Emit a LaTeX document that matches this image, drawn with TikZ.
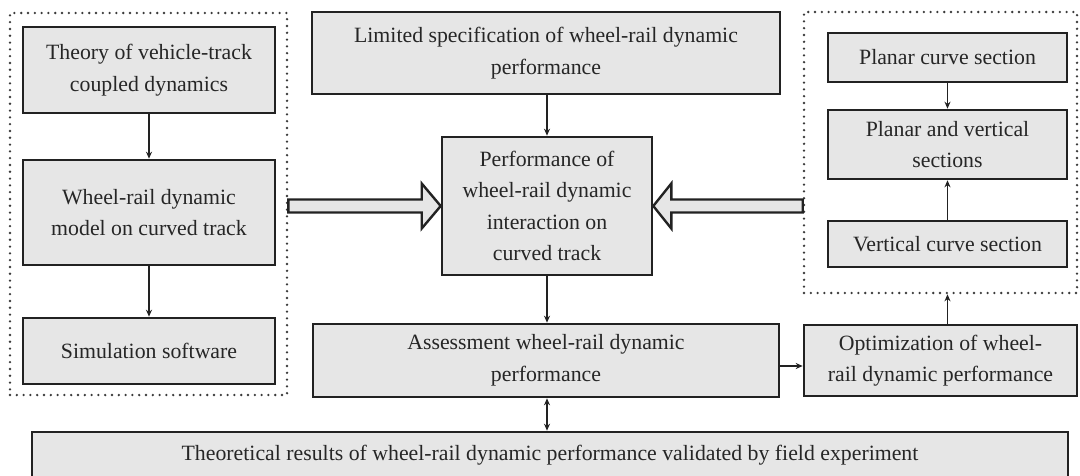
\documentclass[tikz,border=0pt]{standalone}
\usepackage{fontspec}
\setmainfont{Liberation Serif}
\usetikzlibrary{arrows.meta,calc}
\definecolor{boxfill}{HTML}{E6E6E6}
\definecolor{edge}{HTML}{222222}
\definecolor{txt}{HTML}{262626}
\definecolor{dotc}{HTML}{3A3A3A}
\tikzset{
  box/.style={draw=edge, fill=boxfill, line width=2.6pt, align=center, text=txt,
    font=\fontsize{21.8pt}{31.5pt}\selectfont, inner sep=0pt},
  group/.style={draw=dotc, line width=2.6pt, line cap=round, dash pattern=on 0pt off 6.8pt, inner sep=0pt},
  arr/.style={draw=edge, line width=1.8pt, -{Stealth[length=7pt,width=6pt]}},
  biarr/.style={draw=edge, line width=1.8pt, {Stealth[length=7pt,width=6pt]}-{Stealth[length=7pt,width=6pt]}},
  hollow/.style={draw=edge, fill=boxfill, line width=2.4pt, line join=miter}
}
\begin{document}
\begin{tikzpicture}[x=1pt,y=-1pt]
\useasboundingbox[fill=white] (0,0) rectangle (1080,476);
% groups
\node[group, minimum width=277pt, minimum height=382pt] (leftgroup) at (148.5,204) {};
\node[group, minimum width=273pt, minimum height=281pt] (rightgroup) at (940.5,152.5) {};
% left column
\node[box, minimum width=252pt, minimum height=86pt] (theory) at (149,70) {Theory of vehicle-track\\coupled dynamics};
\node[box, minimum width=252pt, minimum height=105pt] (model) at (149,212.5) {Wheel-rail dynamic\\model on curved track};
\node[box, minimum width=252pt, minimum height=66pt] (sim) at (149,351) {Simulation software};
% centre column
\node[box, minimum width=468pt, minimum height=82pt] (spec) at (546,53) {Limited specification of wheel-rail dynamic\\performance};
\node[box, minimum width=210pt, minimum height=138pt] (perf) at (547,206) {Performance of\\wheel-rail dynamic\\interaction on\\curved track};
\node[box, minimum width=466pt, minimum height=73pt] (assess) at (546,360.5) {Assessment wheel-rail dynamic\\performance};
\node[box, minimum width=273pt, minimum height=71pt] (opt) at (940.5,360.5) {Optimization of wheel-\\rail dynamic performance};
% right column
\node[box, minimum width=239pt, minimum height=49pt] (planar) at (947.5,57.5) {Planar curve section};
\node[box, minimum width=239pt, minimum height=69pt] (pv) at (947.5,144.5) {Planar and vertical\\sections};
\node[box, minimum width=239pt, minimum height=46pt] (vc) at (947.5,244) {Vertical curve section};
% bottom
\node[box, minimum width=1036pt, minimum height=46pt] (valid) at (550,455) {\raisebox{3pt}{Theoretical results of wheel-rail dynamic performance validated by field experiment}};
% thin arrows
\draw[arr] (theory.south) -- (model.north);
\draw[arr] (model.south) -- (sim.north);
\draw[arr] (spec.south -| perf.north) -- (perf.north);
\draw[arr] (perf.south) -- (perf.south |- assess.north);
\draw[biarr] (perf.south |- assess.south) -- (perf.south |- valid.north);
\draw[arr] ([yshift=-5.5pt]assess.east) -- ([yshift=-5.5pt]assess.east -| opt.west);
\draw[arr] (opt.north -| pv.south) -- (rightgroup.south -| pv.south);
\draw[arr] (planar.south) -- (pv.north);
\draw[arr] (vc.north) -- (pv.south);
% hollow arrows
\coordinate (la) at (leftgroup.east |- perf.west);
\coordinate (lb) at (perf.west);
\draw[hollow] ($(la)+(0,-6.5)$) -- ($(lb)+(-19,-6.5)$) -- ($(lb)+(-19,-22.5)$) -- (lb)
  -- ($(lb)+(-19,22.5)$) -- ($(lb)+(-19,6.5)$) -- ($(la)+(0,6.5)$) -- cycle;
\coordinate (ra) at (rightgroup.west |- perf.east);
\coordinate (rb) at (perf.east);
\draw[hollow] ($(ra)+(0,-6.5)$) -- ($(rb)+(18,-6.5)$) -- ($(rb)+(18,-22.5)$) -- (rb)
  -- ($(rb)+(18,22.5)$) -- ($(rb)+(18,6.5)$) -- ($(ra)+(0,6.5)$) -- cycle;
\end{tikzpicture}
\end{document}
